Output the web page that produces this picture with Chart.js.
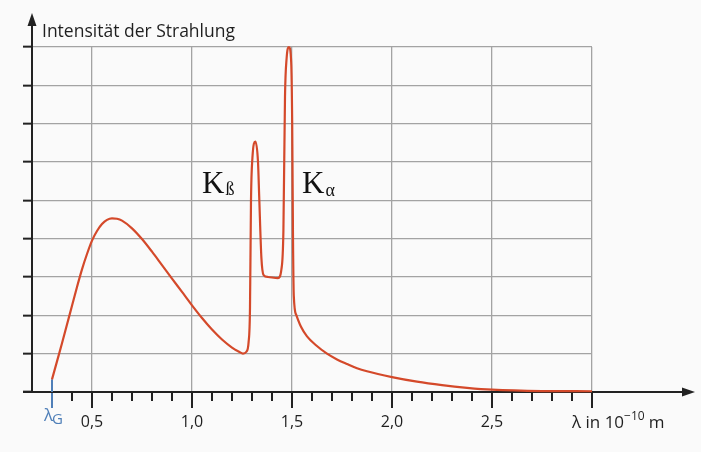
<!DOCTYPE html>
<html>
<head>
<meta charset="utf-8">
<title>Röntgenspektrum</title>
<script src="https://cdn.jsdelivr.net/npm/chart.js"></script>
<style>
    html, body { margin: 0; padding: 0; background: #fafafa; }
    #wrap { width: 701px; height: 452px; }
</style>
</head>
<body>
<div id="wrap"><canvas id="spektrum" width="701" height="452"></canvas></div>
<script>
// Wellenlänge in 10^-10 m
const lambda = [0.30, 0.325, 0.35, 0.375, 0.40, 0.425, 0.45, 0.475, 0.50, 0.525, 0.55, 0.575, 0.60, 0.625,
    0.65, 0.70, 0.75, 0.80, 0.85, 0.90, 0.95,
    1.00, 1.05, 1.10, 1.15, 1.20, 1.235, 1.255, 1.272, 1.283,
    1.29, 1.295, 1.302, 1.317, 1.33, 1.336, 1.347, 1.358, 1.38, 1.43,
    1.447, 1.457, 1.465, 1.473, 1.485, 1.496, 1.501, 1.505, 1.509, 1.522, 1.545, 1.575, 1.62,
    1.675, 1.725, 1.775, 1.825, 1.875, 2.00, 2.125, 2.25, 2.375, 2.50, 2.75, 3.00];
// Intensität in Kästchen
const intensitaet = [0.33, 0.8, 1.27, 1.76, 2.25, 2.74, 3.2, 3.6, 3.95, 4.2, 4.38, 4.49, 4.53, 4.52,
    4.47, 4.27, 3.99, 3.66, 3.31, 2.96, 2.61,
    2.26, 1.93, 1.63, 1.37, 1.16, 1.05, 1.0, 1.05, 1.3,
    2.2, 5.0, 6.1, 6.53, 6.0, 5.1, 3.5, 3.05, 3.0, 2.97,
    3.2, 4.2, 7.7, 8.7, 9.0, 8.6, 7.0, 4.0, 2.5, 2.0, 1.7, 1.45, 1.22,
    1.0, 0.85, 0.73, 0.62, 0.54, 0.39, 0.27, 0.18, 0.11, 0.06, 0.025, 0.02];
// Grenzwellenlänge
const lambdaG = [0.30, 0.30];
const lambdaGWerte = [0, 0.33];

const xTickWerte = [0.5, 1.0, 1.5, 2.0, 2.5];
const xTickTexte = ['0,5', '1,0', '1,5', '2,0', '2,5'];

const ROT = '#d4492a';
const BLAU = '#4f7fb8';
const SCHWARZ = '#222';
const TEXT = '#1f1f1f';

const achsenPlugin = {
    id: 'achsen',
    beforeDatasetsDraw(chart) {
        const { ctx, chartArea: a, scales: { x } } = chart;
        ctx.save();
        ctx.lineWidth = 2;
        // Teilstriche x
        x.ticks.forEach(t => {
            const v = Math.round(t.value * 10);
            if (v <= 2) return;
            const px = x.getPixelForValue(t.value);
            const lang = v % 5 === 0 || v === 3;
            ctx.strokeStyle = v === 3 ? BLAU : SCHWARZ;
            ctx.beginPath();
            ctx.moveTo(px, a.bottom);
            ctx.lineTo(px, a.bottom + (lang ? 16 : 9));
            ctx.stroke();
        });
        // Achsen mit Pfeilen
        ctx.strokeStyle = SCHWARZ;
        ctx.fillStyle = SCHWARZ;
        ctx.beginPath();
        ctx.moveTo(a.left - 9, a.bottom);
        ctx.lineTo(a.right + 95, a.bottom);
        ctx.moveTo(a.left, a.bottom);
        ctx.lineTo(a.left, a.top - 26);
        ctx.stroke();
        ctx.beginPath();
        ctx.moveTo(a.right + 103, a.bottom);
        ctx.lineTo(a.right + 90, a.bottom - 4.5);
        ctx.lineTo(a.right + 90, a.bottom + 4.5);
        ctx.closePath();
        ctx.fill();
        ctx.beginPath();
        ctx.moveTo(a.left, a.top - 34);
        ctx.lineTo(a.left - 4.5, a.top - 21);
        ctx.lineTo(a.left + 4.5, a.top - 21);
        ctx.closePath();
        ctx.fill();
        ctx.restore();
    },
    afterDraw(chart) {
        const { ctx, chartArea: a, scales: { x, y } } = chart;
        ctx.save();
        ctx.textBaseline = 'alphabetic';
        ctx.textAlign = 'left';
        // Achsentitel
        ctx.fillStyle = TEXT;
        ctx.font = '17.5px "Open Sans"';
        ctx.fillText('Intensität der Strahlung', a.left + 10, a.top - 10);

        const base = a.bottom + 36;
        // λ in 10^-10 m
        let px = a.right - 20;
        ctx.font = '17px "Open Sans"';
        ctx.fillText('λ in 10', px, base);
        px += ctx.measureText('λ in 10').width;
        ctx.font = '12px "Open Sans"';
        ctx.fillText('−10', px, base - 8);
        px += ctx.measureText('−10').width + 4;
        ctx.font = '17px "Open Sans"';
        ctx.fillText('m', px, base);

        // λG
        ctx.fillStyle = BLAU;
        px = x.getPixelForValue(lambdaG[0]) - 8;
        ctx.font = '17px "Open Sans"';
        ctx.fillText('λ', px, base - 7);
        px += ctx.measureText('λ').width - 1;
        ctx.font = '15px "Open Sans"';
        ctx.fillText('G', px, base - 4);

        // Kß und Kα
        ctx.fillStyle = '#111';
        const marken = [['K', 'ß', 1.05, 2], ['K', 'α', 1.55, 3]];
        marken.forEach(([k, s, xv, dy]) => {
            let kx = x.getPixelForValue(xv);
            const ky = y.getPixelForValue(5.2);
            ctx.font = '31px "Liberation Serif"';
            ctx.fillText(k, kx, ky);
            kx += ctx.measureText(k).width + 1;
            ctx.font = '18px "Liberation Serif"';
            ctx.fillText(s, kx, ky + dy);
        });
        ctx.restore();
    }
};

const punkte = lambda.map((l, i) => ({ x: l, y: intensitaet[i] }));
const gPunkte = lambdaG.map((l, i) => ({ x: l, y: lambdaGWerte[i] }));

new Chart(document.getElementById('spektrum'), {
    type: 'line',
    data: {
        datasets: [{
            data: punkte,
            borderColor: ROT,
            borderWidth: 2.2,
            pointRadius: 0,
            cubicInterpolationMode: 'monotone',
            clip: false
        }, {
            data: gPunkte,
            borderColor: BLAU,
            borderWidth: 2,
            pointRadius: 0,
            clip: false
        }]
    },
    options: {
        responsive: false,
        animation: false,
        layout: { padding: { left: 0, top: 47, right: 109, bottom: 0 } },
        plugins: { legend: { display: false }, tooltip: { enabled: false } },
        scales: {
            x: {
                type: 'linear',
                min: 0.2,
                max: 3.0,
                afterFit(s) { s.height = 60; },
                border: { display: false },
                grid: {
                    drawTicks: false,
                    lineWidth: 1.3,
                    color: c => (Math.round(c.tick.value * 10) % 5 === 0 && Math.round(c.tick.value * 10) > 2) ? '#a3a3a3' : 'rgba(0,0,0,0)'
                },
                ticks: {
                    stepSize: 0.1,
                    autoSkip: false,
                    maxRotation: 0,
                    padding: 21,
                    color: TEXT,
                    font: { family: 'Open Sans', size: 16 },
                    callback: v => {
                        const i = xTickWerte.findIndex(w => Math.abs(w - v) < 1e-6);
                        return i >= 0 ? xTickTexte[i] : '';
                    }
                }
            },
            y: {
                min: 0,
                max: 9,
                afterFit(s) { s.width = 32; },
                border: { display: false },
                grid: {
                    color: '#a3a3a3',
                    lineWidth: 1.3,
                    tickColor: SCHWARZ,
                    tickWidth: 2,
                    tickLength: 9
                },
                ticks: { stepSize: 1, display: false }
            }
        }
    },
    plugins: [achsenPlugin]
});
</script>
</body>
</html>
